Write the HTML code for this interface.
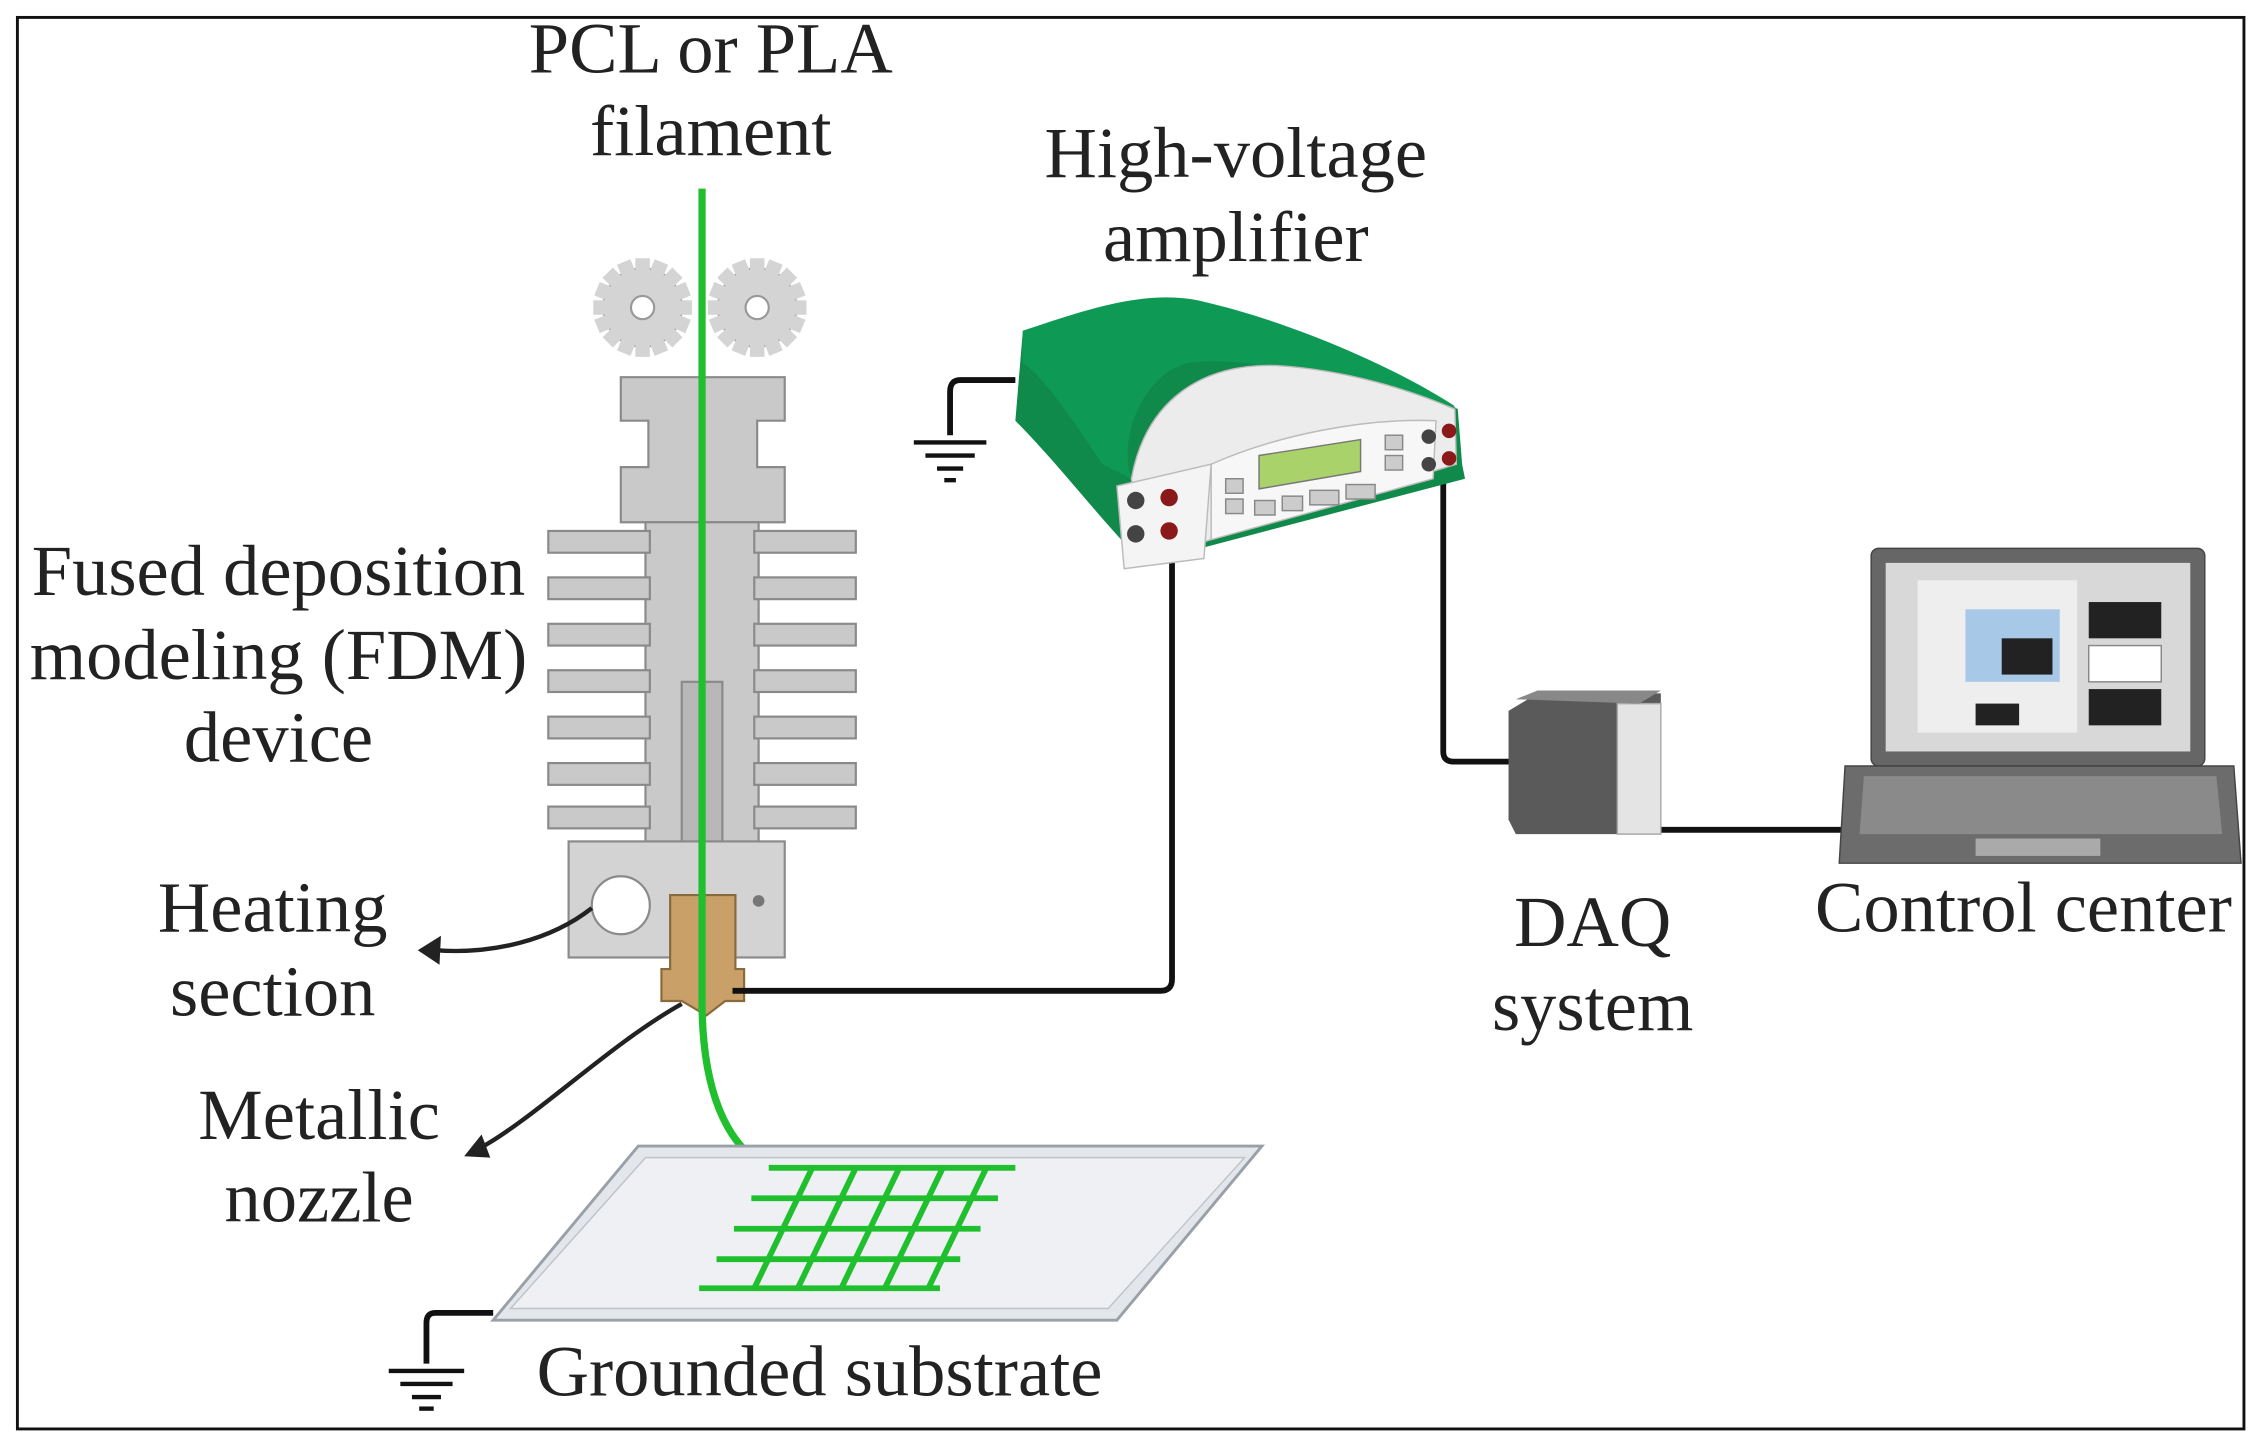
<!DOCTYPE html>
<html><head><meta charset="utf-8"><style>
html,body{margin:0;padding:0;background:#fff;}
svg{display:block;}
text{font-family:"Liberation Serif",serif;font-size:50px;fill:#222;text-anchor:middle;}
</style></head><body>
<svg width="2257" height="1442" viewBox="0 0 1556 994" preserveAspectRatio="none" xmlns="http://www.w3.org/2000/svg">
<rect x="12" y="12" width="1535" height="973" fill="#fff" stroke="#111" stroke-width="2"/>

<!-- labels -->
<text x="490" y="50">PCL or PLA</text>
<text x="490" y="107">filament</text>
<text x="852" y="122">High-voltage</text>
<text x="852" y="180">amplifier</text>
<text x="192" y="410">Fused deposition</text>
<text x="192" y="468">modeling (FDM)</text>
<text x="192" y="525">device</text>
<text x="188" y="642">Heating</text>
<text x="188" y="700">section</text>
<text x="220" y="785">Metallic</text>
<text x="220" y="842">nozzle</text>
<text x="1098" y="652">DAQ</text>
<text x="1098" y="710">system</text>
<text x="1395" y="642">Control center</text>
<text x="565" y="962">Grounded substrate</text>

<!-- gears -->
<g fill="#d4d4d4" stroke="#999" stroke-width="1.5">
 <g transform="translate(443,212)">
  <circle r="27"/>
  <g stroke="none" fill="#d4d4d4">
   <rect x="-5" y="-34" width="10" height="68"/><rect x="-5" y="-34" width="10" height="68" transform="rotate(45)"/>
   <rect x="-5" y="-34" width="10" height="68" transform="rotate(90)"/><rect x="-5" y="-34" width="10" height="68" transform="rotate(135)"/>
   <rect x="-5" y="-34" width="10" height="68" transform="rotate(22.5)"/><rect x="-5" y="-34" width="10" height="68" transform="rotate(67.5)"/>
   <rect x="-5" y="-34" width="10" height="68" transform="rotate(112.5)"/><rect x="-5" y="-34" width="10" height="68" transform="rotate(157.5)"/>
  </g>
  <circle r="8" fill="#fff"/>
 </g>
 <g transform="translate(522,212)">
  <circle r="27"/>
  <g stroke="none" fill="#d4d4d4">
   <rect x="-5" y="-34" width="10" height="68"/><rect x="-5" y="-34" width="10" height="68" transform="rotate(45)"/>
   <rect x="-5" y="-34" width="10" height="68" transform="rotate(90)"/><rect x="-5" y="-34" width="10" height="68" transform="rotate(135)"/>
   <rect x="-5" y="-34" width="10" height="68" transform="rotate(22.5)"/><rect x="-5" y="-34" width="10" height="68" transform="rotate(67.5)"/>
   <rect x="-5" y="-34" width="10" height="68" transform="rotate(112.5)"/><rect x="-5" y="-34" width="10" height="68" transform="rotate(157.5)"/>
  </g>
  <circle r="8" fill="#fff"/>
 </g>
</g>

<!-- hotend -->
<g fill="#c9c9c9" stroke="#8a8a8a" stroke-width="1.5">
 <path d="M428,260 H541 V290 H522 V322 H541 V360 H428 V322 H447 V290 H428 Z"/>
 <rect x="445" y="360" width="78" height="222"/>
 <g>
  <rect x="378" y="366" width="70" height="15"/><rect x="378" y="398" width="70" height="15"/>
  <rect x="378" y="430" width="70" height="15"/><rect x="378" y="462" width="70" height="15"/>
  <rect x="378" y="494" width="70" height="15"/><rect x="378" y="526" width="70" height="15"/>
  <rect x="378" y="556" width="70" height="15"/>
  <rect x="520" y="366" width="70" height="15"/><rect x="520" y="398" width="70" height="15"/>
  <rect x="520" y="430" width="70" height="15"/><rect x="520" y="462" width="70" height="15"/>
  <rect x="520" y="494" width="70" height="15"/><rect x="520" y="526" width="70" height="15"/>
  <rect x="520" y="556" width="70" height="15"/>
 </g>
 <rect x="470" y="470" width="28" height="115" fill="#b8b8b8"/>
 <rect x="392" y="580" width="149" height="80" fill="#d3d3d3"/>
 <circle cx="428" cy="624" r="20" fill="#fff"/>
 <circle cx="523" cy="621" r="4" fill="#777" stroke="none"/>
</g>
<!-- nozzle -->
<path d="M462,617 H507 V668 H513 V690 H500 L487,700 L470,690 H456 V668 H462 Z" fill="#c9a068" stroke="#8a6a3a" stroke-width="1.5"/>

<!-- filament -->
<path d="M484,130 V690 C484,750 500,790 530,805 L700,805" fill="none" stroke="#1fbf2e" stroke-width="5"/>

<!-- substrate -->
<path d="M440,790 H870 L770,910 H340 Z" fill="#e3e6ea" stroke="#9aa0a8" stroke-width="2"/>
<path d="M445,798 H858 L764,902 H352 Z" fill="#eef0f3" stroke="#c0c4ca" stroke-width="1"/>
<g stroke="#1fbf2e" stroke-width="4" fill="none">
 <line x1="530" y1="805" x2="700" y2="805"/>
 <line x1="518" y1="826" x2="688" y2="826"/>
 <line x1="506" y1="847" x2="676" y2="847"/>
 <line x1="494" y1="868" x2="662" y2="868"/>
 <line x1="482" y1="888" x2="648" y2="888"/>
 <line x1="560" y1="805" x2="520" y2="888"/>
 <line x1="590" y1="805" x2="550" y2="888"/>
 <line x1="620" y1="805" x2="580" y2="888"/>
 <line x1="650" y1="805" x2="610" y2="888"/>
 <line x1="680" y1="805" x2="640" y2="888"/>
</g>

<!-- arrows -->
<g fill="none" stroke="#222" stroke-width="3">
 <path d="M408,626 C380,648 340,658 300,655"/>
 <path d="M470,692 C420,720 370,770 330,792"/>
</g>
<path d="M288,655 L304,645 L303,665 Z" fill="#222"/>
<path d="M320,797 L332,782 L338,798 Z" fill="#222"/>

<!-- wires -->
<g fill="none" stroke="#111" stroke-width="4" stroke-linejoin="round">
 <path d="M505,683 H800 Q808,683 808,675 V370"/>
 <path d="M700,262 H662 Q655,262 655,270 V300"/>
 <path d="M995,330 V518 Q995,525 1002,525 H1045"/>
 <path d="M1145,572 H1280"/>
 <path d="M340,905 H300 Q294,905 294,912 V940"/>
</g>
<g stroke="#111" stroke-width="3">
 <line x1="630" y1="305" x2="680" y2="305"/><line x1="638" y1="314" x2="672" y2="314"/>
 <line x1="646" y1="323" x2="664" y2="323"/><line x1="651" y1="331" x2="659" y2="331"/>
 <line x1="268" y1="945" x2="320" y2="945"/><line x1="276" y1="954" x2="312" y2="954"/>
 <line x1="284" y1="963" x2="304" y2="963"/><line x1="289" y1="971" x2="299" y2="971"/>
</g>

<!-- amplifier -->
<path d="M705,230 C740,215 790,200 830,210 C890,225 960,255 1005,282 L1008,320 L1010,330 L820,380 L790,390 C760,360 730,320 700,290 Z" fill="#0f8a4a"/>
<path d="M705,228 C745,215 790,198 830,208 C890,222 960,252 1003,280 L990,285 C920,260 860,245 820,250 C790,256 770,300 780,330 L760,320 C740,290 720,260 705,250 Z" fill="#0e9a55"/>
<path d="M780,330 C790,275 830,250 880,252 C930,255 975,270 1003,282 L1004,320 L840,370 L790,388 Z" fill="#ececec" stroke="#bbb" stroke-width="1"/>
<path d="M770,335 L835,320 L830,385 L775,392 Z" fill="#f4f4f4" stroke="#bbb"/>
<path d="M835,320 C880,300 940,288 990,290 L988,330 L835,372 Z" fill="#f7f7f7" stroke="#bbb"/>
<path d="M868,314 L938,303 L938,325 L868,337 Z" fill="#a9d36a" stroke="#777"/>
<circle cx="783" cy="345" r="6" fill="#444"/><circle cx="806" cy="343" r="6" fill="#8a1a1a"/>
<circle cx="783" cy="368" r="6" fill="#444"/><circle cx="806" cy="366" r="6" fill="#8a1a1a"/>
<circle cx="985" cy="301" r="5" fill="#444"/><circle cx="999" cy="297" r="5" fill="#8a1a1a"/>
<circle cx="985" cy="320" r="5" fill="#444"/><circle cx="999" cy="316" r="5" fill="#8a1a1a"/>
<g fill="#ccc" stroke="#888"><rect x="845" y="330" width="12" height="10"/><rect x="845" y="344" width="12" height="10"/>
<rect x="955" y="300" width="12" height="10"/><rect x="955" y="314" width="12" height="10"/>
<rect x="865" y="345" width="14" height="10"/><rect x="884" y="342" width="14" height="10"/><rect x="903" y="338" width="20" height="10"/><rect x="928" y="334" width="20" height="10"/></g>

<!-- DAQ -->
<path d="M1040,490 L1060,478 H1145 V575 H1045 L1040,565 Z" fill="#5a5a5a"/>
<path d="M1115,485 H1145 V575 H1115 Z" fill="#e4e4e4" stroke="#aaa"/>
<path d="M1045,482 L1060,476 H1145 L1130,485 Z" fill="#888"/>

<!-- laptop -->
<rect x="1290" y="378" width="230" height="150" rx="5" fill="#666" stroke="#444"/>
<rect x="1300" y="388" width="210" height="130" fill="#d8d8d8"/>
<rect x="1322" y="400" width="110" height="105" fill="#eee"/>
<rect x="1355" y="420" width="65" height="50" fill="#a8c8e8"/>
<rect x="1380" y="440" width="35" height="25" fill="#222"/>
<rect x="1440" y="415" width="50" height="25" fill="#222"/>
<rect x="1440" y="445" width="50" height="25" fill="#fff" stroke="#888"/>
<rect x="1440" y="475" width="50" height="25" fill="#222"/>
<rect x="1362" y="485" width="30" height="15" fill="#222"/>
<path d="M1272,528 H1540 L1545,595 H1268 Z" fill="#6c6c6c" stroke="#444"/>
<path d="M1285,535 H1528 L1532,575 H1282 Z" fill="#8a8a8a"/>
<rect x="1362" y="578" width="86" height="12" fill="#aaa"/>
</svg>
</body></html>
